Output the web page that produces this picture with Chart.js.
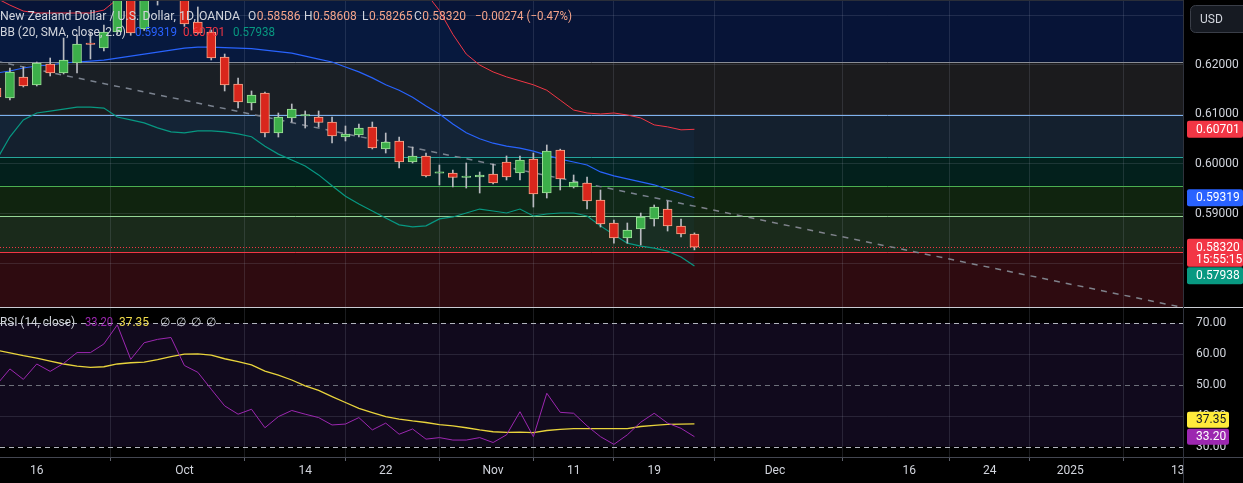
<!DOCTYPE html>
<html><head><meta charset="utf-8">
<script src="https://cdn.jsdelivr.net/npm/chart.js@4.4.1/dist/chart.umd.min.js"></script>
<style>html,body{margin:0;padding:0;background:#000;overflow:hidden}#wrap{width:1243px;height:483px;position:relative}</style>
</head><body><div id="wrap"><canvas id="c" width="1243" height="483"></canvas></div>
<script>
// ---- data (daily candles, NZD/USD, OANDA) ----
const dates = ['2024-09-11','2024-09-12','2024-09-13','2024-09-16','2024-09-17','2024-09-18','2024-09-19','2024-09-20','2024-09-23','2024-09-24','2024-09-25','2024-09-26','2024-09-27','2024-09-30',
'2024-10-01','2024-10-02','2024-10-03','2024-10-04','2024-10-07','2024-10-08','2024-10-09','2024-10-10','2024-10-11','2024-10-14','2024-10-15','2024-10-16','2024-10-17','2024-10-18','2024-10-21','2024-10-22','2024-10-23','2024-10-24','2024-10-25','2024-10-28','2024-10-29','2024-10-30','2024-10-31',
'2024-11-01','2024-11-04','2024-11-05','2024-11-06','2024-11-07','2024-11-08','2024-11-11','2024-11-12','2024-11-13','2024-11-14','2024-11-15','2024-11-18','2024-11-19','2024-11-20','2024-11-21','2024-11-22'];
const opens  = [0.61535,0.61333,0.61758,0.61596,0.62020,0.61838,0.62040,0.62434,0.62343,0.62667,0.63450,0.62727,0.63450,0.63400,0.63520,0.62869,0.62667,0.62162,0.61616,0.61232,0.61434,0.60626,0.60929,0.60970,0.60949,0.60848,0.60545,0.60586,0.60747,0.60303,0.60465,0.60040,0.60162,0.59813,0.59818,0.59727,0.59737,0.59798,0.60040,0.59818,0.60101,0.59414,0.60283,0.59535,0.59616,0.59273,0.58808,0.58505,0.58687,0.58889,0.59091,0.58747,0.58586];
const highs  = [0.61616,0.61939,0.61960,0.62060,0.62141,0.62545,0.62606,0.62667,0.62808,0.63550,0.63560,0.63520,0.63700,0.63790,0.63560,0.63172,0.62707,0.62222,0.61737,0.61475,0.61455,0.61030,0.61212,0.61071,0.61071,0.60949,0.60768,0.60808,0.60848,0.60626,0.60545,0.60343,0.60222,0.59980,0.59879,0.60020,0.59838,0.59999,0.60162,0.60162,0.60222,0.60384,0.60300,0.59778,0.59737,0.59475,0.58869,0.58808,0.59010,0.59172,0.59253,0.58889,0.58608];
const lows   = [0.61293,0.61293,0.61556,0.61576,0.61778,0.61818,0.61838,0.62121,0.62283,0.62626,0.62600,0.62700,0.63210,0.63350,0.62780,0.62626,0.62101,0.61475,0.61131,0.61091,0.60545,0.60545,0.60848,0.60727,0.60747,0.60424,0.60465,0.60545,0.60303,0.60222,0.59919,0.60020,0.59737,0.59576,0.59535,0.59515,0.59414,0.59596,0.59677,0.59677,0.59131,0.59313,0.59475,0.59515,0.59091,0.58727,0.58400,0.58400,0.58364,0.58747,0.58646,0.58525,0.58265];
const closes = [0.61354,0.61859,0.61576,0.62040,0.61838,0.62101,0.62424,0.62414,0.62667,0.63450,0.62646,0.63450,0.63400,0.63520,0.62828,0.62646,0.62141,0.61596,0.61253,0.61394,0.60626,0.60949,0.61111,0.60980,0.60838,0.60566,0.60606,0.60727,0.60323,0.60444,0.60040,0.60162,0.59758,0.59823,0.59727,0.59747,0.59778,0.59616,0.59737,0.60081,0.59394,0.60263,0.59697,0.59636,0.59253,0.58788,0.58505,0.58667,0.58929,0.59131,0.58747,0.58586,0.58320];
// Bollinger Bands (20, SMA, close, 2.5)
const bbUpper = [0.6335,0.6321,0.6309,0.6305,0.6305,0.6305,0.6305,0.6305,0.6311,0.6333,0.6347,0.6361,0.6379,0.6395,0.6405,0.6405,0.6405,0.6405,0.6407,0.6411,0.6424,0.6434,0.6440,0.6440,0.6446,0.6456,0.6457,0.6453,0.6443,0.6429,0.6421,0.6397,0.6345,0.6310,0.6262,0.6222,0.6200,0.6186,0.6176,0.6168,0.6160,0.6149,0.6129,0.6109,0.6103,0.6101,0.6103,0.6099,0.6093,0.6079,0.6075,0.6069,0.60701];
const bbBasis = [0.61838,0.61879,0.61939,0.61980,0.62000,0.62040,0.62060,0.62080,0.62100,0.62140,0.62180,0.62220,0.62260,0.62300,0.62340,0.62360,0.62360,0.62350,0.62340,0.62330,0.62300,0.62270,0.62240,0.62180,0.62120,0.62060,0.61960,0.61860,0.61740,0.61600,0.61490,0.61350,0.61170,0.61010,0.60810,0.60630,0.60510,0.60420,0.60360,0.60320,0.60260,0.60180,0.60100,0.60040,0.59980,0.59840,0.59760,0.59700,0.59640,0.59580,0.59490,0.59410,0.59319];
const bbLower = [0.6008,0.6055,0.6089,0.6103,0.6107,0.6111,0.6115,0.6115,0.6113,0.6095,0.6089,0.6083,0.6073,0.6065,0.6063,0.6067,0.6067,0.6065,0.6061,0.6055,0.6036,0.6020,0.6008,0.5996,0.5978,0.5956,0.5935,0.5919,0.5905,0.5891,0.5877,0.5873,0.5875,0.5889,0.5893,0.5901,0.5909,0.5905,0.5901,0.5909,0.5895,0.5899,0.5901,0.5901,0.5895,0.5875,0.5857,0.5840,0.5834,0.5830,0.5824,0.5812,0.57938];
// RSI (14, close) and its moving average
const rsi   = [50.0,55.2,51.8,56.8,54.4,57.0,60.5,60.5,63.3,69.5,58.3,63.7,64.8,65.4,56.3,54.1,48.6,43.2,40.5,42.1,36.1,39.7,41.7,40.5,39.4,37.0,37.3,39.4,35.4,37.6,34.0,35.7,32.4,32.9,32.1,32.1,32.9,31.3,33.8,41.3,33.2,47.3,41.1,40.8,36.7,33.2,30.7,33.8,37.9,40.8,37.6,35.9,33.20];
const rsiMA = [61.3,60.4,59.5,58.7,57.7,56.8,56.1,55.7,55.9,56.8,57.2,57.4,58.2,59.2,60.0,60.1,59.7,58.5,57.6,56.5,54.5,53.2,51.6,49.7,48.2,46.2,44.3,42.4,41.0,39.7,38.9,38.3,37.8,37.1,36.7,36.1,35.4,34.8,34.6,34.7,34.5,35.2,35.6,35.8,35.8,35.8,35.8,35.8,36.5,36.9,37.2,37.3,37.35];
// time axis ticks (bar index -> label)
const tickIndex  = [3,14,23,29,37,43,49,58,68,74,80,88];
const tickLabels = ['16','Oct','14','22','Nov','11','19','Dec','16','24','2025','13'];
const priceTicks = [0.58,0.59,0.60,0.61,0.62,0.63];
const rsiTickValues = [70,60,50,40,30];
// user drawings: horizontal levels, zones, trendline
const levelPrices = [0.62061,0.60990,0.60141,0.59556,0.58949,0.58222];
const levelColors = ['#8a8d95','#7fb2ee','#26a69a','#4caf50','#96d696','#f23645'];
const bandColors  = ['#071437','#1b1b1d','#14202e','#03201c','#10240f','#1a2a1b','#2e0b10'];
const trendIdx   = [0, 88];
const trendPrice = [0.62075, 0.57123];
const lastClose = 0.58320, countdown = '15:55:15';
const dayChange = -0.00274, dayChangePct = -0.47;

// view ranges
const paneSplitPrice = 0.57111;
const priceMin = 0.54081, priceMax = 0.63313;
const rsiMin = 26.6, rsiMax = 174.98;
const xMin = 0.261, xMax = 88.4;

const FONT = 'Roboto, "Liberation Sans", sans-serif';
Chart.defaults.font.family = FONT;
Chart.defaults.font.size = 12;

const upFill='#3cae4a', upBorder='#9fe09a', dnFill='#d9261c', dnBorder='#f7a98c', wickCol='#b8bac0';
const isUp = dates.map((d,i)=>closes[i]>=opens[i]);

const plugin = {
  id:'tv',
  beforeDraw(chart){
    const {ctx, chartArea:a, scales:{y, yr}} = chart;
    ctx.save();
    ctx.fillStyle='#000'; ctx.fillRect(0,0,chart.width,chart.height);
    const split = y.getPixelForValue(paneSplitPrice);
    let top = a.top;
    for (let k=0;k<bandColors.length;k++){
      const bottom = k<levelPrices.length ? y.getPixelForValue(levelPrices[k]) : split;
      ctx.fillStyle = bandColors[k];
      ctx.fillRect(a.left, top, a.right-a.left, bottom-top);
      top = bottom;
    }
    const y70 = yr.getPixelForValue(70), y30 = yr.getPixelForValue(30);
    ctx.fillStyle = '#110a1d';
    ctx.fillRect(a.left, y70, a.right-a.left, y30-y70);
    ctx.restore();
  },
  beforeDatasetsDraw(chart){
    const {ctx, chartArea:a, scales:{y, yr}} = chart;
    ctx.save();
    ctx.strokeStyle='rgba(170,175,190,0.16)'; ctx.lineWidth=1;
    [60,40].forEach(v=>{const py=Math.round(yr.getPixelForValue(v))+0.5;ctx.beginPath();ctx.moveTo(a.left,py);ctx.lineTo(a.right,py);ctx.stroke();});
    ctx.setLineDash([5,4]);
    [[70,'#b2b5be'],[50,'#6d707a'],[30,'#b2b5be']].forEach(([v,c])=>{
      const py=Math.round(yr.getPixelForValue(v))+0.5;
      ctx.strokeStyle=c;ctx.beginPath();ctx.moveTo(a.left,py);ctx.lineTo(a.right,py);ctx.stroke();});
    ctx.setLineDash([]);
    levelPrices.forEach((p,k)=>{
      const py=Math.round(y.getPixelForValue(p))+0.5;
      ctx.strokeStyle=levelColors[k]; ctx.lineWidth=1;
      ctx.beginPath();ctx.moveTo(a.left,py);ctx.lineTo(a.right,py);ctx.stroke();
    });
    const pl=Math.round(y.getPixelForValue(lastClose))+0.5;
    ctx.strokeStyle='#f23645'; ctx.lineWidth=1; ctx.setLineDash([1,2]);
    ctx.beginPath();ctx.moveTo(a.left,pl);ctx.lineTo(a.right,pl);ctx.stroke();
    ctx.restore();
  },
  afterDraw(chart){
    const {ctx, chartArea:a, scales:{y, yr}} = chart;
    ctx.save();
    const split = Math.round(y.getPixelForValue(paneSplitPrice));
    ctx.fillStyle='#c9ccd3'; ctx.fillRect(0, split, chart.width, 1);
    ctx.fillStyle='#2a2e39'; ctx.fillRect(0,0,a.right,1);
    ctx.fillStyle='#434651'; ctx.fillRect(0, a.bottom, chart.width, 1);
    ctx.fillStyle='#2f323c'; ctx.fillRect(a.right, 0, 1, chart.height);

    ctx.textBaseline='middle';
    ctx.font='12px '+FONT; ctx.fillStyle='#d1d4dc'; ctx.textAlign='left';
    rsiTickValues.forEach(v=>ctx.fillText(v.toFixed(2), a.right+13, yr.getPixelForValue(v)));

    function badge(cy, txt, bg, fg, x0, x1, h){
      ctx.fillStyle=bg;
      ctx.beginPath(); ctx.roundRect(x0, cy-h/2, x1-x0, h, 2); ctx.fill();
      ctx.fillStyle=fg; ctx.font='12px '+FONT; ctx.textAlign='left';
      ctx.fillText(txt, a.right+13, cy+0.5);
    }
    const L=a.right+4, R=chart.width;
    badge(y.getPixelForValue(bbUpper[bbUpper.length-1]), bbUpper[bbUpper.length-1].toFixed(5), '#f23645','#fff',L,R,17);
    badge(y.getPixelForValue(bbBasis[bbBasis.length-1]), bbBasis[bbBasis.length-1].toFixed(5), '#2962ff','#fff',L,R,17);
    const lp = y.getPixelForValue(lastClose);
    ctx.fillStyle='#f23645'; ctx.beginPath(); ctx.roundRect(L, lp-8.5, R-L, 28, 2); ctx.fill();
    ctx.fillStyle='#fff'; ctx.font='12px '+FONT;
    ctx.fillText(lastClose.toFixed(5), a.right+13, lp+0.5);
    ctx.fillText(countdown, a.right+13, lp+12.5);
    const lowY = Math.max(y.getPixelForValue(bbLower[bbLower.length-1]), lp+19.5+9);
    badge(lowY, bbLower[bbLower.length-1].toFixed(5), '#089981','#fff',L,R,17);
    const rY = yr.getPixelForValue(rsi[rsi.length-1]);
    const mY = Math.min(yr.getPixelForValue(rsiMA[rsiMA.length-1]), rY-17);
    badge(mY, rsiMA[rsiMA.length-1].toFixed(2), '#ffeb3b','#131722',L,a.right+46,16);
    badge(rY, rsi[rsi.length-1].toFixed(2), '#9c27b0','#fff',L,a.right+46,16);

    ctx.fillStyle='#161a22'; ctx.strokeStyle='#3a3e48'; ctx.lineWidth=1;
    ctx.beginPath(); ctx.roundRect(a.right+7.5, 5.5, 70, 27, 5); ctx.fill(); ctx.stroke();
    ctx.fillStyle='#d1d4dc'; ctx.font='12px '+FONT; ctx.fillText('USD', a.right+17, 19.5);

    const txt=(s,x,yy,c,mw)=>{ctx.fillStyle=c; if(mw) ctx.fillText(s,x,yy,mw); else ctx.fillText(s,x,yy);};
    ctx.font='12.5px '+FONT; ctx.textAlign='left';
    const W='#d1d4dc', V='#f5a48a';
    txt('New Zealand Dollar / U.S. Dollar, 1D, OANDA',0,17,W,240);
    const i=opens.length-1;
    ctx.font='12px '+FONT;
    [['O',opens[i],248],['H',highs[i],304],['L',lows[i],362],['C',closes[i],414]].forEach(([k,v,x])=>{
      txt(k,x,17,W); const kw=ctx.measureText(k).width; txt(v.toFixed(5),x+kw+0.5,17,V,44);
    });
    txt('\u2212'+Math.abs(dayChange).toFixed(5)+' (\u2212'+Math.abs(dayChangePct).toFixed(2)+'%)',475,17,V,97);
    ctx.font='12.5px '+FONT;
    txt('BB (20, SMA, close, 2.5)',0,33,W,126);
    ctx.font='12px '+FONT;
    txt(bbBasis[i].toFixed(5),135,33,'#2962ff',42);
    txt(bbUpper[i].toFixed(5),183,33,'#f23645',42);
    txt(bbLower[i].toFixed(5),233,33,'#089981',42);
    const ry = yr.getPixelForValue(70);
    ctx.font='12.5px '+FONT;
    txt('RSI (14, close)',0,ry,W,75);
    ctx.font='12px '+FONT;
    txt(rsi[i].toFixed(2),85,ry,'#9c27b0',28);
    txt(rsiMA[i].toFixed(2),119,ry,'#f0dc4a',30);
    [160,176,191,206].forEach(x=>txt('\u2205',x,ry,W));
    ctx.restore();
  }
};

const ds = [
  {type:'bar', label:'wick', data:dates.map((d,k)=>({x:k,y:[lows[k],highs[k]]})), backgroundColor:wickCol, barThickness:1, grouped:false, order:1, yAxisID:'y'},
  {type:'bar', label:'body', data:dates.map((d,k)=>({x:k,y:[opens[k],closes[k]]})), backgroundColor:isUp.map(u=>u?upFill:dnFill), borderColor:isUp.map(u=>u?upBorder:dnBorder), borderWidth:1, borderSkipped:false, minBarLength:1.5, barThickness:9, grouped:false, order:0, yAxisID:'y'},
  {type:'line', label:'upper', data:dates.map((d,k)=>({x:k,y:bbUpper[k]})), borderColor:'#f23645', borderWidth:1, pointRadius:0, fill:4, backgroundColor:'rgba(33,150,243,0.045)', order:3, yAxisID:'y'},
  {type:'line', label:'basis', data:dates.map((d,k)=>({x:k,y:bbBasis[k]})), borderColor:'#2962ff', borderWidth:1.2, pointRadius:0, fill:false, order:3, yAxisID:'y'},
  {type:'line', label:'lower', data:dates.map((d,k)=>({x:k,y:bbLower[k]})), borderColor:'#089981', borderWidth:1.2, pointRadius:0, fill:false, order:3, yAxisID:'y'},
  {type:'line', label:'trend', data:trendIdx.map((v,k)=>({x:v,y:trendPrice[k]})), borderColor:'#7f828b', borderWidth:1.5, borderDash:[6,6], pointRadius:0, fill:false, order:6, yAxisID:'y'},
  {type:'line', label:'rsi', data:dates.map((d,k)=>({x:k,y:rsi[k]})), borderColor:'#9c27b0', borderWidth:1, pointRadius:0, fill:false, order:0, yAxisID:'yr'},
  {type:'line', label:'rsiMA', data:dates.map((d,k)=>({x:k,y:rsiMA[k]})), borderColor:'#e9d43c', borderWidth:1.3, pointRadius:0, fill:false, order:0, yAxisID:'yr'}
];

const noPad = s => { s.paddingTop=0; s.paddingBottom=0; s.paddingLeft=0; s.paddingRight=0; };

new Chart(document.getElementById('c'), {
  type:'bar',
  data:{datasets:ds},
  options:{
    responsive:false, animation:false, devicePixelRatio:1,
    layout:{padding:0, autoPadding:false},
    plugins:{legend:{display:false}, tooltip:{enabled:false}},
    elements:{line:{tension:0}},
    scales:{
      x:{type:'linear', min:xMin, max:xMax, offset:false,
        afterFit(s){s.height=26; noPad(s);},
        afterBuildTicks(s){s.ticks=tickIndex.map(v=>({value:v}));},
        ticks:{autoSkip:false, maxRotation:0, padding:3, color:'#d1d4dc', font:{size:12},
          callback:(v)=>{const k=tickIndex.indexOf(v);return k>=0?tickLabels[k]:'';}},
        grid:{color:'rgba(170,175,190,0.16)', drawTicks:true, tickLength:4, tickColor:'#5d606b'},
        border:{display:false}},
      y:{type:'linear', position:'right', min:priceMin, max:priceMax,
        afterFit(s){s.width=60; noPad(s);},
        afterBuildTicks(s){s.ticks=priceTicks.map(v=>({value:v}));},
        ticks:{padding:12, color:'#d1d4dc', font:{size:12},
          callback:(v)=> (v>0.585 && v<0.625) ? v.toFixed(5) : ''},
        grid:{color:'rgba(170,175,190,0.16)', drawTicks:false},
        border:{display:false}},
      yr:{type:'linear', display:false, min:rsiMin, max:rsiMax}
    }
  },
  plugins:[plugin]
});
</script>
</body></html>
